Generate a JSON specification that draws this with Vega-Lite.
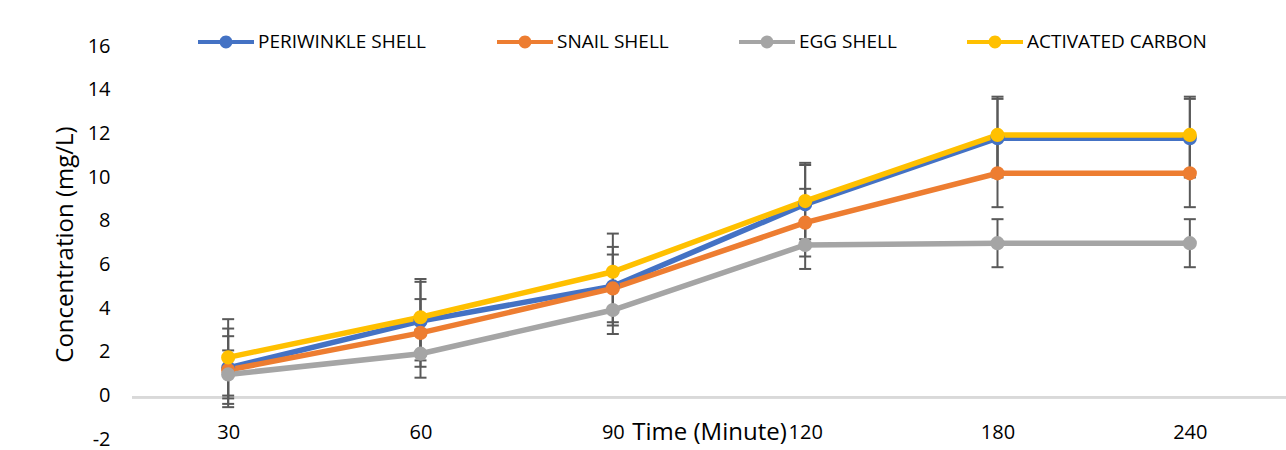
{
  "$schema": "https://vega.github.io/schema/vega-lite/v6.json",
  "width": 1154,
  "height": 393,
  "autosize": {"type": "none"},
  "padding": {"left": 132, "top": 48, "right": 0, "bottom": 9},
  "background": "white",
  "config": {
    "view": {"stroke": null},
    "font": "Open Sans",
    "axis": {"grid": false, "domain": false, "ticks": false, "labelColor": "#000000", "titleColor": "#000000", "titleFontWeight": "normal"}
  },
  "data": {
    "values": [
      {"series": "PERIWINKLE SHELL", "time": 30, "value": 1.35, "lo": -0.45, "hi": 3.15},
      {"series": "PERIWINKLE SHELL", "time": 60, "value": 3.49, "lo": 1.69, "hi": 5.29},
      {"series": "PERIWINKLE SHELL", "time": 90, "value": 5.09, "lo": 3.29, "hi": 6.89},
      {"series": "PERIWINKLE SHELL", "time": 120, "value": 8.84, "lo": 7.04, "hi": 10.64},
      {"series": "PERIWINKLE SHELL", "time": 180, "value": 11.87, "lo": 10.07, "hi": 13.67},
      {"series": "PERIWINKLE SHELL", "time": 240, "value": 11.87, "lo": 10.07, "hi": 13.67},
      {"series": "SNAIL SHELL", "time": 30, "value": 1.25, "lo": -0.3, "hi": 2.8},
      {"series": "SNAIL SHELL", "time": 60, "value": 2.95, "lo": 1.4, "hi": 4.5},
      {"series": "SNAIL SHELL", "time": 90, "value": 4.99, "lo": 3.44, "hi": 6.54},
      {"series": "SNAIL SHELL", "time": 120, "value": 8.0, "lo": 6.45, "hi": 9.55},
      {"series": "SNAIL SHELL", "time": 180, "value": 10.26, "lo": 8.71, "hi": 11.81},
      {"series": "SNAIL SHELL", "time": 240, "value": 10.26, "lo": 8.71, "hi": 11.81},
      {"series": "EGG SHELL", "time": 30, "value": 1.05, "lo": -0.05, "hi": 2.15},
      {"series": "EGG SHELL", "time": 60, "value": 2.0, "lo": 0.9, "hi": 3.1},
      {"series": "EGG SHELL", "time": 90, "value": 4.0, "lo": 2.9, "hi": 5.1},
      {"series": "EGG SHELL", "time": 120, "value": 6.98, "lo": 5.88, "hi": 8.08},
      {"series": "EGG SHELL", "time": 180, "value": 7.06, "lo": 5.96, "hi": 8.16},
      {"series": "EGG SHELL", "time": 240, "value": 7.06, "lo": 5.96, "hi": 8.16},
      {"series": "ACTIVATED CARBON", "time": 30, "value": 1.83, "lo": 0.08, "hi": 3.58},
      {"series": "ACTIVATED CARBON", "time": 60, "value": 3.67, "lo": 1.92, "hi": 5.42},
      {"series": "ACTIVATED CARBON", "time": 90, "value": 5.75, "lo": 4.0, "hi": 7.5},
      {"series": "ACTIVATED CARBON", "time": 120, "value": 8.99, "lo": 7.24, "hi": 10.74},
      {"series": "ACTIVATED CARBON", "time": 180, "value": 12.02, "lo": 10.27, "hi": 13.77},
      {"series": "ACTIVATED CARBON", "time": 240, "value": 12.02, "lo": 10.27, "hi": 13.77}
    ]
  },
  "encoding": {
    "x": {
      "field": "time",
      "type": "ordinal",
      "scale": {"type": "point", "padding": 0.5},
      "axis": {
        "title": "Time (Minute)",
        "labelAngle": 0,
        "labelFontSize": 20,
        "labelBaseline": "alphabetic",
        "labelPadding": -3,
        "titleFontSize": 24,
        "titleBaseline": "alphabetic",
        "titleY": -2
      }
    }
  },
  "layer": [
    {
      "mark": {"type": "rule", "color": "#D9D9D9", "strokeWidth": 2},
      "encoding": {
        "x": null,
        "y": {"datum": 0, "type": "quantitative", "scale": {"domain": [-2, 16], "nice": false, "zero": false}}
      }
    },
    {
      "mark": {"type": "rule", "color": "#595959", "strokeWidth": 2},
      "encoding": {
        "y": {"field": "lo", "type": "quantitative", "scale": {"domain": [-2, 16], "nice": false, "zero": false}},
        "y2": {"field": "hi"}
      }
    },
    {
      "mark": {"type": "tick", "color": "#595959", "thickness": 2, "size": 12, "orient": "horizontal", "opacity": 1},
      "encoding": {"y": {"field": "lo", "type": "quantitative"}}
    },
    {
      "mark": {"type": "tick", "color": "#595959", "thickness": 2, "size": 12, "orient": "horizontal", "opacity": 1},
      "encoding": {"y": {"field": "hi", "type": "quantitative"}}
    },
    {
      "mark": {"type": "line", "strokeWidth": 5.5},
      "encoding": {
        "y": {
          "field": "value",
          "type": "quantitative",
          "scale": {"domain": [-2, 16], "nice": false, "zero": false},
          "axis": {
            "title": "Concentration (mg/L)",
            "values": [-2, 0, 2, 4, 6, 8, 10, 12, 14, 16],
            "labelExpr": "datum.value + ''",
            "labelFontSize": 20,
            "labelPadding": 22,
            "labelOffset": -2,
            "titleFontSize": 24,
            "titleAngle": -90,
            "titleX": -67,
            "titleY": 196,
            "titleBaseline": "middle",
            "titleAlign": "center"
          }
        },
        "stroke": {
          "field": "series",
          "type": "nominal",
          "scale": {
            "domain": ["ACTIVATED CARBON", "EGG SHELL", "PERIWINKLE SHELL", "SNAIL SHELL"],
            "range": ["#FFC000", "#A5A5A5", "#4472C4", "#ED7D31"]
          },
          "legend": null
        }
      }
    },
    {
      "mark": {"type": "point", "filled": true, "shape": "circle", "size": 200, "opacity": 1},
      "encoding": {
        "y": {"field": "value", "type": "quantitative"},
        "color": {
          "field": "series",
          "type": "nominal",
          "scale": {
            "domain": ["PERIWINKLE SHELL", "SNAIL SHELL", "EGG SHELL", "ACTIVATED CARBON"],
            "range": ["#4472C4", "#ED7D31", "#A5A5A5", "#FFC000"]
          },
          "legend": {
            "orient": "none",
            "legendX": 66,
            "legendY": -34,
            "direction": "horizontal",
            "title": null,
            "symbolType": "M-1,-0.07H-0.22V0.07H-1Z M0.22,-0.07H1V0.07H0.22Z M0.23,0A0.23,0.23,0,1,1,-0.23,0A0.23,0.23,0,1,1,0.23,0Z",
            "symbolSize": 3136,
            "symbolStrokeWidth": 0,
            "symbolOpacity": 1,
            "labelFontSize": 19,
            "labelColor": "#000000",
            "labelOffset": 4,
            "columnPadding": 70,
            "labelLimit": 400
          }
        }
      }
    }
  ]
}
